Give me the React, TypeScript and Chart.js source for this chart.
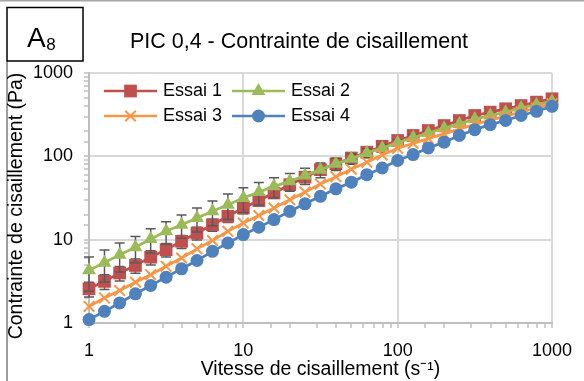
import React, { useEffect, useRef } from 'react';
import { Chart, registerables } from 'chart.js';

Chart.register(...registerables);

// ---- Data ----
const shearRates = [1, 1.26, 1.58, 2, 2.51, 3.16, 3.98, 5.01, 6.31, 7.94, 10, 12.6, 15.8, 20, 25.1, 31.6, 39.8, 50.1, 63.1, 79.4, 100, 126, 158, 200, 251, 316, 398, 501, 631, 794, 1000];

const essai1 = [2.57, 3.16, 3.98, 4.9, 6.17, 7.59, 9.55, 12.0, 15.1, 19.1, 24.0, 29.5, 36.3, 45.7, 56.2, 69.2, 81.3, 95.5, 112, 132, 155, 178, 204, 234, 269, 309, 339, 372, 407, 447, 490];
const essai1Err = [0.52, 0.63, 0.78, 0.95, 1.2, 1.4, 1.7, 2.1, 2.5, 3.0, 3.6, 4.1, 4.7, 5.5, 6.2, 6.9, 7.3, 7.6, 7.8, 7.9, 7.8, 7.1, 7.1, 7.0, 6.7, 6.2, 6.8, 7.4, 8.1, 8.9, 9.8];

const essai2 = [4.3, 5.3, 6.6, 8.1, 10.2, 12.6, 15.1, 18.2, 21.9, 26.3, 31.6, 37.2, 43.7, 50.1, 58.9, 69.2, 81.3, 93.3, 110, 126, 146, 168, 190, 218, 245, 280, 309, 339, 380, 417, 457];
const essai2Err = [1.9, 2.2, 2.5, 2.8, 3.3, 3.8, 4.7, 5.8, 7.2, 8.9, 10.4, 11.2, 11.8, 12.0, 13.0, 13.8, 13.8, 13.1, 13.2, 12.6, 11.8, 11.9, 11.5, 11.0, 11.0, 11.3, 12.4, 11.9, 11.4, 12.5, 13.7];

const essai3 = [1.58, 2.0, 2.45, 3.09, 3.8, 4.79, 6.03, 7.76, 9.77, 12.6, 15.8, 19.5, 24.0, 30.2, 37.2, 46.5, 57.0, 70.0, 85.0, 104, 125, 143, 163, 186, 212, 242, 271, 304, 340, 381, 428];

const essai4 = [1.1, 1.38, 1.74, 2.24, 2.82, 3.55, 4.47, 5.62, 7.24, 9.12, 11.5, 14.1, 17.4, 21.9, 26.9, 33.1, 40.7, 49.0, 60.3, 72.4, 89.1, 105, 126, 148, 178, 209, 240, 269, 309, 347, 398];

const seriesLabels = ['Essai 1', 'Essai 2', 'Essai 3', 'Essai 4'];
const decadeTicks = [1, 10, 100, 1000];
const chartTitle = 'PIC 0,4 - Contrainte de cisaillement';
const panelLetter = 'A';
const panelIndex = '8';
const xTitle = 'Vitesse de cisaillement (s\u207B\u00B9)';
const yTitle = 'Contrainte de cisaillement (Pa)';

// ---- Styles ----
const FONT = '"Liberation Sans", Arial, sans-serif';
const seriesStyles = [
  { color: '#C0504D', pointStyle: 'rect', radius: 9 },
  { color: '#9BBB59', pointStyle: 'triangle', radius: 8 },
  { color: '#F79646', pointStyle: 'crossRot', radius: 7.5 },
  { color: '#4F81BD', pointStyle: 'circle', radius: 6.5 },
];

function drawMarker(ctx: CanvasRenderingContext2D, style: string, x: number, y: number, r: number, color: string) {
  ctx.save();
  ctx.fillStyle = color;
  ctx.strokeStyle = color;
  ctx.lineWidth = 2;
  ctx.beginPath();
  if (style === 'rect') {
    const s = Math.SQRT1_2 * r;
    ctx.rect(x - s, y - s, 2 * s, 2 * s);
    ctx.fill();
  } else if (style === 'triangle') {
    ctx.moveTo(x, y - r);
    ctx.lineTo(x + 0.866 * r, y + r / 2);
    ctx.lineTo(x - 0.866 * r, y + r / 2);
    ctx.closePath();
    ctx.fill();
  } else if (style === 'crossRot') {
    const o = Math.SQRT1_2 * r;
    ctx.moveTo(x - o, y - o);
    ctx.lineTo(x + o, y + o);
    ctx.moveTo(x + o, y - o);
    ctx.lineTo(x - o, y + o);
    ctx.stroke();
  } else {
    ctx.arc(x, y, r, 0, Math.PI * 2);
    ctx.fill();
  }
  ctx.restore();
}

const errorBarPlugin = {
  id: 'errorBars',
  beforeDatasetDraw(chart: any, args: any) {
    const ds = chart.data.datasets[args.index];
    const errs: number[] | undefined = ds.errors;
    if (!errs) return;
    const ctx = chart.ctx;
    const yScale = chart.scales.y;
    ctx.save();
    ctx.strokeStyle = '#595959';
    ctx.lineWidth = 1.5;
    args.meta.data.forEach((pt: any, i: number) => {
      const v = ds.data[i].y;
      const e = errs[i];
      const yTop = yScale.getPixelForValue(v + e);
      const yBot = yScale.getPixelForValue(Math.max(v - e, 0.01));
      const cap = 5;
      ctx.beginPath();
      ctx.moveTo(pt.x, yTop);
      ctx.lineTo(pt.x, yBot);
      ctx.moveTo(pt.x - cap, yTop);
      ctx.lineTo(pt.x + cap, yTop);
      ctx.moveTo(pt.x - cap, yBot);
      ctx.lineTo(pt.x + cap, yBot);
      ctx.stroke();
    });
    ctx.restore();
  },
};

const decorPlugin = {
  id: 'decor',
  afterDraw(chart: any) {
    const ctx: CanvasRenderingContext2D = chart.ctx;
    const area = chart.chartArea;
    ctx.save();
    // outer frame
    ctx.strokeStyle = '#a6a6a6';
    ctx.lineWidth = 1.5;
    ctx.beginPath();
    ctx.moveTo(0, 0.75);
    ctx.lineTo(584, 0.75);
    ctx.stroke();
    ctx.strokeStyle = '#7f7f7f';
    ctx.beginPath();
    ctx.moveTo(7, 61);
    ctx.lineTo(7, 381);
    ctx.stroke();
    // panel label box
    ctx.strokeStyle = '#000';
    ctx.lineWidth = 1.5;
    ctx.strokeRect(7, 7.5, 76, 53.5);
    ctx.fillStyle = '#000';
    ctx.textBaseline = 'alphabetic';
    ctx.textAlign = 'left';
    ctx.font = `28px ${FONT}`;
    ctx.fillText(panelLetter, 27, 47);
    const aw = ctx.measureText(panelLetter).width;
    ctx.font = `17px ${FONT}`;
    ctx.fillText(panelIndex, 27 + aw + 0.5, 50);
    // title
    ctx.font = `21.5px ${FONT}`;
    ctx.textAlign = 'center';
    ctx.fillText(chartTitle, 299, 48);
    // y axis title
    ctx.save();
    ctx.font = `19.5px ${FONT}`;
    ctx.textBaseline = 'middle';
    ctx.translate(17, (area.top + area.bottom) / 2 + 8);
    ctx.rotate(-Math.PI / 2);
    ctx.fillText(yTitle, 0, 0);
    ctx.restore();
    // legend
    const cols = [104, 232];
    const rows = [91, 116];
    ctx.font = `18px ${FONT}`;
    ctx.textAlign = 'left';
    ctx.textBaseline = 'middle';
    seriesLabels.forEach((label, i) => {
      const st = seriesStyles[i];
      const x0 = cols[i % 2];
      const y0 = rows[Math.floor(i / 2)];
      ctx.strokeStyle = st.color;
      ctx.lineWidth = 2.5;
      ctx.beginPath();
      ctx.moveTo(x0, y0);
      ctx.lineTo(x0 + 53, y0);
      ctx.stroke();
      drawMarker(ctx, st.pointStyle, x0 + 26.5, y0, st.radius, st.color);
      ctx.fillStyle = '#000';
      ctx.fillText(label, x0 + 59, y0);
    });
    ctx.restore();
  },
};

const allSeries = [essai1, essai2, essai3, essai4];
const allErrors = [essai1Err, essai2Err, undefined, undefined];

export default function App() {
  const canvasRef = useRef<HTMLCanvasElement | null>(null);

  useEffect(() => {
    const canvas = canvasRef.current;
    if (!canvas) return;
    const isDecade = (v: number) => decadeTicks.includes(Number(v));
    const datasets = allSeries.map((vals, i) => ({
      label: seriesLabels[i],
      data: shearRates.map((x, j) => ({ x, y: vals[j] })),
      errors: allErrors[i],
      borderColor: seriesStyles[i].color,
      backgroundColor: seriesStyles[i].color,
      pointBackgroundColor: seriesStyles[i].color,
      pointBorderColor: seriesStyles[i].color,
      pointStyle: seriesStyles[i].pointStyle,
      pointRadius: seriesStyles[i].radius,
      pointBorderWidth: seriesStyles[i].pointStyle === 'crossRot' ? 2 : 0,
      borderWidth: 2.75,
      tension: 0,
      clip: false,
      order: 3 - i,
    }));

    const tickFont = { family: FONT, size: 18 };
    const titleFont = { family: FONT, size: 19.5 };
    const chart = new Chart(canvas, {
      type: 'line',
      data: { datasets: datasets as any },
      plugins: [errorBarPlugin, decorPlugin],
      options: {
        responsive: false,
        animation: false,
        devicePixelRatio: 1,
        layout: { padding: { left: 6, right: 30, top: 73, bottom: 0 } },
        plugins: { legend: { display: false }, tooltip: { enabled: false } },
        scales: {
          x: {
            type: 'logarithmic',
            min: 1,
            max: 1000,
            afterFit: (s: any) => { s.height = 58; },
            border: { color: '#bfbfbf', width: 2 },
            grid: {
              color: (c: any) => (c.tick && isDecade(c.tick.value) ? '#d9d9d9' : 'rgba(0,0,0,0)'),
              lineWidth: 2,
              tickColor: '#bfbfbf',
              tickLength: 5,
              tickWidth: 1.5,
            },
            ticks: {
              autoSkip: false,
              maxRotation: 0,
              padding: 12,
              color: '#000',
              font: tickFont,
              callback: (v: any) => (isDecade(v) ? String(v) : ''),
            },
            title: { display: true, text: xTitle, color: '#000', font: titleFont, padding: 0 },
          },
          y: {
            type: 'logarithmic',
            min: 1,
            max: 1000,
            afterFit: (s: any) => { s.width = 83; },
            border: { color: '#bfbfbf', width: 2 },
            grid: {
              color: (c: any) => (c.tick && isDecade(c.tick.value) ? '#d9d9d9' : 'rgba(0,0,0,0)'),
              lineWidth: 2,
              tickColor: '#bfbfbf',
              tickLength: 5,
              tickWidth: 1.5,
            },
            ticks: {
              autoSkip: false,
              padding: 11,
              color: '#000',
              font: tickFont,
              callback: (v: any) => (isDecade(v) ? String(v) : ''),
            },
            title: { display: false },
          },
        },
      } as any,
    });
    return () => chart.destroy();
  }, []);

  return (
    <div style={{ position: 'absolute', left: 0, top: 0, width: 584, height: 381, background: '#fff' }}>
      <canvas ref={canvasRef} width={584} height={381} style={{ display: 'block', width: 584, height: 381 }} />
    </div>
  );
}
